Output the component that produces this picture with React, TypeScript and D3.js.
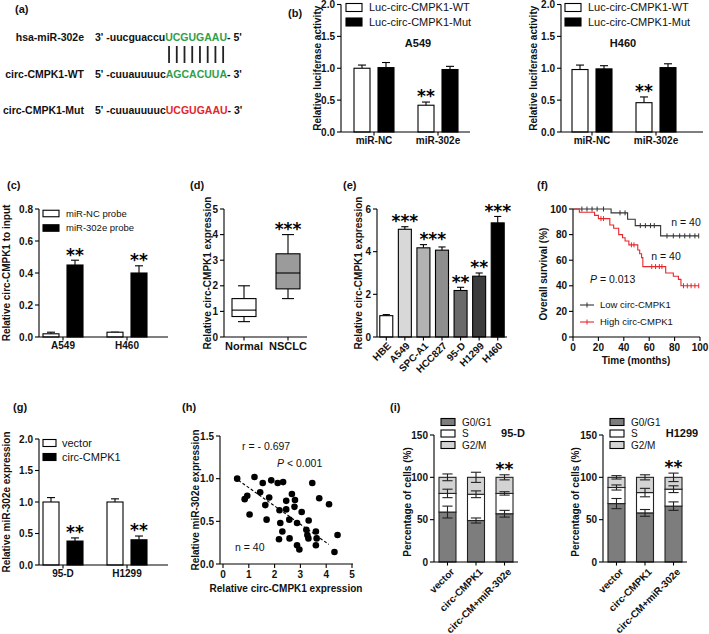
import React from 'react';
import * as d3 from 'd3';

const W = 709, H = 634;
const FONT = "'Liberation Sans', Arial, Helvetica, sans-serif";
const STAR_FONT = "'DejaVu Sans', sans-serif";
const SF = 17;

// ---------------- (a) sequences
const seqLabels = ['hsa-miR-302e', 'circ-CMPK1-WT', 'circ-CMPK1-Mut'];
const seqPrefix = ["3' -uucguaccu", "5' -cuuauuuuc", "5' -cuuauuuuc"];
const seqSite = ['UCGUGAAU', 'AGCACUUA', 'UCGUGAAU'];
const seqSuffix = ["- 5'", "- 3'", "- 3'"];
const seqSiteColor = ['#2f9e4a', '#2f9e4a', '#e2262c'];
const pairCount = 8;

// ---------------- (b) luciferase
const lucGroups = ['miR-NC', 'miR-302e'];
const lucSeries = ['Luc-circ-CMPK1-WT', 'Luc-circ-CMPK1-Mut'];
const lucTicks = [0, 0.5, 1, 1.5, 2];
const a549WT = [1.0, 0.42];
const a549WTErr = [0.05, 0.05];
const a549Mut = [1.01, 0.98];
const a549MutErr = [0.08, 0.05];
const h460WT = [0.98, 0.46];
const h460WTErr = [0.07, 0.09];
const h460Mut = [0.99, 1.01];
const h460MutErr = [0.05, 0.06];
const lucStarsWT = ['', '**'];

// ---------------- (c) RIP
const ripGroups = ['A549', 'H460'];
const ripSeries = ['miR-NC probe', 'miR-302e probe'];
const ripTicks = [0, 0.2, 0.4, 0.6, 0.8];
const ripNC = [0.02, 0.03];
const ripNCErr = [0.01, 0.0];
const rip302 = [0.45, 0.40];
const rip302Err = [0.03, 0.045];
const ripStars = ['**', '**'];

// ---------------- (d) box plot
const boxGroups = ['Normal', 'NSCLC'];
const boxMin = [0.6, 1.5];
const boxQ1 = [0.8, 1.88];
const boxMed = [1.05, 2.5];
const boxQ3 = [1.5, 3.25];
const boxMax = [2.0, 4.0];
const boxFill = ['#ffffff', '#9b9b9b'];
const boxStars = ['', '***'];
const boxTicks = [0, 1, 2, 3, 4, 5];

// ---------------- (e) cell lines
const cellLines = ['HBE', 'A549', 'SPC-A1', 'HCC827', '95-D', 'H1299', 'H460'];
const cellExpr = [1.0, 5.05, 4.18, 4.07, 2.18, 2.85, 5.35];
const cellErr = [0.05, 0.12, 0.15, 0.15, 0.15, 0.15, 0.3];
const cellFill = ['#ffffff', '#d8d8d8', '#b2b2b2', '#8e8e8e', '#6a6a6a', '#3c3c3c', '#000000'];
const cellTicks = [0, 2, 4, 6];
const cellStarText = ['***', '***', '**', '**', '***'];
const cellStarFrom = ['A549', 'SPC-A1', '95-D', 'H1299', 'H460'];
const cellStarTo = ['A549', 'HCC827', '95-D', 'H1299', 'H460'];

// ---------------- (f) Kaplan-Meier
const kmTicks = [0, 20, 40, 60, 80, 100];
const lowTimes = [0, 30, 43, 49, 69];
const lowSurv = [100, 97, 92, 87, 79];
const lowEnd = 99;
const lowCensor = [7, 11, 15, 19, 24, 37, 41, 53, 57, 61, 64, 74, 79, 84, 88, 92, 96, 99];
const highTimes = [0, 5, 17, 20, 29, 32, 36, 39, 41, 44, 51, 52.5, 54, 55, 73, 79, 83, 85];
const highSurv = [100, 97.5, 95, 92.5, 87.5, 85, 80, 77.5, 75, 72, 68, 65, 62, 55, 50, 47.5, 45, 40];
const highEnd = 99;
const highCensor = [22, 24, 46, 48, 62, 65, 68, 70, 87, 90, 93, 96, 99];
const kmLegend = ['Low circ-CMPK1', 'High circ-CMPK1'];
const kmColors = ['#333333', '#e8262c'];

// ---------------- (g) miR-302e expression
const gGroups = ['95-D', 'H1299'];
const gSeries = ['vector', 'circ-CMPK1'];
const gTicks = [0, 0.5, 1, 1.5, 2];
const vecExpr = [1.0, 1.0];
const vecErr = [0.07, 0.05];
const circExpr = [0.38, 0.40];
const circErr = [0.05, 0.06];
const gStars = ['**', '**'];

// ---------------- (h) correlation
const scatterX = [0.55, 0.84, 0.94, 1.03, 1.22, 1.44, 1.54, 1.64, 1.69, 1.79, 1.87, 2.12, 2.19, 2.17, 2.22, 2.33, 2.30, 2.45, 2.45, 2.57,
  2.58, 2.67, 2.79, 2.77, 2.87, 2.87, 2.96, 3.05, 3.23, 3.27, 3.31, 3.32, 3.46, 3.60, 3.63, 3.60, 3.73, 4.11, 4.44, 4.32];
const scatterY = [1.00, 0.76, 0.80, 0.58, 1.02, 0.84, 0.95, 0.69, 0.52, 0.78, 0.98, 0.95, 0.63, 0.29, 0.48, 0.96, 0.38, 0.74, 0.64, 0.52,
  0.30, 0.82, 0.75, 0.67, 0.48, 0.22, 0.17, 0.61, 0.40, 0.34, 0.30, 0.51, 0.95, 0.38, 0.30, 0.22, 0.77, 0.70, 0.34, 0.14];
const fitX = [0.6, 4.1];
const fitY = [0.98, 0.23];
const hXTicks = [0, 1, 2, 3, 4, 5];
const hYTicks = [0, 0.5, 1, 1.5];

// ---------------- (i) cell cycle
const cycleGroups = ['vector', 'circ-CMPK1', 'circ-CM+miR-302e'];
const phases = ['G0/G1', 'S', 'G2/M'];
const phaseFill = ['#7d7d7d', '#ffffff', '#d3d3d3'];
const cycleTicks = [0, 50, 100, 150];
const d95G1 = [59, 49, 57];
const d95G1Err = [7, 3, 4];
const d95S = [22, 31, 24];
const d95SErr = [5, 4, 2];
const d95G2 = [19, 20, 19];
const d95G2Err = [4, 6, 3];
const h1299G1 = [69, 58, 66];
const h1299G1Err = [6, 4, 5];
const h1299S = [19, 24, 20];
const h1299SErr = [3, 5, 4];
const h1299G2 = [12, 18, 14];
const h1299G2Err = [2, 3, 5];
const cycleStars = ['', '', '**'];

// ---------------- helpers
let _ctx: CanvasRenderingContext2D | null = null;
function measure(text: string, font: string): number {
  if (!_ctx) _ctx = document.createElement('canvas').getContext('2d');
  if (!_ctx) return text.length * 6;
  _ctx.font = font;
  return _ctx.measureText(text).width;
}

const SW = 1.1;

function YAxis({ scale, x, ticks, fmt, cls = 'tk' }: any) {
  const [d0, d1] = scale.domain();
  return (
    <g>
      <line x1={x} x2={x} y1={scale(d0)} y2={scale(d1)} stroke="#000" strokeWidth={SW} />
      {ticks.map((t: number) => (
        <g key={t}>
          <line x1={x - 4} x2={x} y1={scale(t)} y2={scale(t)} stroke="#000" strokeWidth={SW} />
          <text x={x - 6} y={scale(t)} dy="0.36em" textAnchor="end" className={cls}>{fmt(t)}</text>
        </g>
      ))}
    </g>
  );
}

function XBaseline({ x0, x1, y, ticks }: any) {
  return (
    <g>
      <line x1={x0} x2={x1} y1={y} y2={y} stroke="#000" strokeWidth={SW} />
      {ticks.map((t: number, i: number) => (
        <line key={i} x1={t} x2={t} y1={y} y2={y + 3.5} stroke="#000" strokeWidth={SW} />
      ))}
    </g>
  );
}

function YLabel({ x, y, text, cls = 'ttl' }: any) {
  return <text transform={`translate(${x},${y}) rotate(-90)`} textAnchor="middle" dy="0.35em" className={cls}>{text}</text>;
}

function Stars({ x, y, text }: any) {
  return <text x={x} y={y + SF * 0.55} textAnchor="middle" fontFamily={STAR_FONT} fontWeight="bold" fontSize={SF}>{text}</text>;
}

function UpErr({ cx, y0, y1, cap }: any) {
  return (
    <g stroke="#000" strokeWidth={SW}>
      <line x1={cx} x2={cx} y1={y0} y2={y1} />
      <line x1={cx - cap / 2} x2={cx + cap / 2} y1={y1} y2={y1} />
    </g>
  );
}

function BothErr({ cx, y, e, cap }: any) {
  return (
    <g stroke="#222" strokeWidth={SW}>
      <line x1={cx} x2={cx} y1={y - e} y2={y + e} />
      <line x1={cx - cap / 2} x2={cx + cap / 2} y1={y - e} y2={y - e} />
      <line x1={cx - cap / 2} x2={cx + cap / 2} y1={y + e} y2={y + e} />
    </g>
  );
}

function LegendBox({ x, y, fill, label, cls, w = 15, h = 7, gap = 7 }: any) {
  return (
    <g>
      <rect x={x} y={y - h / 2} width={w} height={h} fill={fill} stroke="#000" strokeWidth={SW} />
      <text x={x + w + gap} y={y} dy="0.36em" className={cls}>{label}</text>
    </g>
  );
}

// ---------------- grouped bar panel (b, c, g)
function GroupedPanel(p: any) {
  const y = d3.scaleLinear().domain(p.yDomain).range([p.yBottom, p.yTop]);
  const gx = d3.scaleBand().domain(p.groups).range(p.groupRange);
  const sx = d3.scaleBand().domain(['a', 'b']).range(p.subRange).paddingInner(p.subPad);
  const bw = sx.bandwidth();
  const series = [
    { key: 'a', vals: p.aVals, errs: p.aErrs, fill: '#ffffff', stars: p.aStars },
    { key: 'b', vals: p.bVals, errs: p.bErrs, fill: '#000000', stars: p.bStars },
  ];
  return (
    <g>
      {series.map(s => p.groups.map((g: string, i: number) => {
        const x = (gx(g) as number) + (sx(s.key) as number);
        const top = y(s.vals[i]);
        const et = y(s.vals[i] + s.errs[i]);
        return (
          <g key={s.key + g}>
            <UpErr cx={x + bw / 2} y0={top} y1={et} cap={bw * 0.5} />
            <rect x={x} y={top} width={bw} height={y(0) - top} fill={s.fill} stroke="#000" strokeWidth={SW} />
            {s.stars && s.stars[i] ? <Stars x={x + bw / 2} y={et - 9} text={s.stars[i]} /> : null}
          </g>
        );
      }))}
      <YAxis scale={y} x={p.axisX} ticks={p.ticks} fmt={d3.format('.1f')} />
      <XBaseline x0={p.axisX} x1={p.axisEnd} y={y(0)} ticks={p.groups.map((g: string) => (gx(g) as number) + gx.bandwidth() / 2)} />
      {p.groups.map((g: string) => (
        <text key={g} x={(gx(g) as number) + gx.bandwidth() / 2} y={y(0) + 12} textAnchor="middle" className="tk">{g}</text>
      ))}
      <YLabel x={p.ylabelX} y={(p.yTop + p.yBottom) / 2} text={p.ylabel} />
      <LegendBox x={p.legendX} y={p.legendY[0]} fill="#ffffff" label={p.seriesNames[0]} cls={p.legendCls} w={p.legendW} h={p.legendH} gap={p.legendGap} />
      <LegendBox x={p.legendX} y={p.legendY[1]} fill="#000000" label={p.seriesNames[1]} cls={p.legendCls} w={p.legendW} h={p.legendH} gap={p.legendGap} />
      {p.title ? <text x={p.titleX} y={p.titleY} textAnchor="middle" className="ttl2">{p.title}</text> : null}
    </g>
  );
}

// ---------------- (a)
function PanelA() {
  const fs = 10.5;
  const font = `bold ${fs}px 'Liberation Sans'`;
  const labelRight = 84, seqX = 95;
  const rowY = [41, 78, 114];
  const pre0 = measure(seqPrefix[0], font);
  const pitch = measure(seqSite[0], font) / seqSite[0].length;
  const lx = d3.range(pairCount).map(i => seqX + pre0 + (i + 0.5) * pitch);
  return (
    <g>
      {seqLabels.map((lab, i) => (
        <g key={i}>
          <text x={labelRight} y={rowY[i]} textAnchor="end" className="sq">{lab}</text>
          <text x={seqX} y={rowY[i]} className="sq">
            <tspan>{seqPrefix[i]}</tspan>
            <tspan fill={seqSiteColor[i]}>{seqSite[i]}</tspan>
            <tspan>{seqSuffix[i]}</tspan>
          </text>
        </g>
      ))}
      {lx.map((x, i) => <line key={i} x1={x} x2={x} y1={46} y2={63} stroke="#222" strokeWidth={1.8} />)}
    </g>
  );
}

// ---------------- (d)
function PanelD() {
  const y = d3.scaleLinear().domain([0, 5]).range([337, 209]);
  const x = d3.scaleBand().domain(boxGroups).range([222, 310]);
  const bw = 24;
  const axisX = 224;
  return (
    <g>
      {boxGroups.map((g, i) => {
        const cx = (x(g) as number) + x.bandwidth() / 2;
        return (
          <g key={g} stroke="#000" strokeWidth={SW}>
            <line x1={cx} x2={cx} y1={y(boxMin[i])} y2={y(boxQ1[i])} />
            <line x1={cx} x2={cx} y1={y(boxQ3[i])} y2={y(boxMax[i])} />
            <line x1={cx - bw / 4} x2={cx + bw / 4} y1={y(boxMin[i])} y2={y(boxMin[i])} />
            <line x1={cx - bw / 4} x2={cx + bw / 4} y1={y(boxMax[i])} y2={y(boxMax[i])} />
            <rect x={cx - bw / 2} y={y(boxQ3[i])} width={bw} height={y(boxQ1[i]) - y(boxQ3[i])} fill={boxFill[i]} />
            <line x1={cx - bw / 2} x2={cx + bw / 2} y1={y(boxMed[i])} y2={y(boxMed[i])} />
          </g>
        );
      })}
      {boxGroups.map((g, i) => boxStars[i] ? (
        <Stars key={g} x={(x(g) as number) + x.bandwidth() / 2} y={y(boxMax[i]) - 9} text={boxStars[i]} />
      ) : null)}
      <YAxis scale={y} x={axisX} ticks={boxTicks} fmt={d3.format('d')} />
      <XBaseline x0={axisX} x1={307} y={y(0)} ticks={boxGroups.map(g => (x(g) as number) + x.bandwidth() / 2)} />
      {boxGroups.map(g => (
        <text key={g} x={(x(g) as number) + x.bandwidth() / 2} y={y(0) + 13} textAnchor="middle" className="tk2">{g}</text>
      ))}
      <YLabel x={207} y={273} text="Relative circ-CMPK1 expression" />
    </g>
  );
}

// ---------------- (e)
function PanelE() {
  const y = d3.scaleLinear().domain([0, 6]).range([337, 209]);
  const x = d3.scaleBand().domain(cellLines).range([377, 507]).paddingInner(0.3).paddingOuter(0.15);
  const bw = x.bandwidth();
  const axisX = 377;
  return (
    <g>
      {cellLines.map((c, i) => {
        const bx = x(c) as number;
        return (
          <g key={c}>
            <UpErr cx={bx + bw / 2} y0={y(cellExpr[i])} y1={y(cellExpr[i] + cellErr[i])} cap={bw * 0.55} />
            <rect x={bx} y={y(cellExpr[i])} width={bw} height={y(0) - y(cellExpr[i])} fill={cellFill[i]} stroke="#000" strokeWidth={SW} />
          </g>
        );
      })}
      {cellStarText.map((t, k) => {
        const i0 = cellLines.indexOf(cellStarFrom[k]);
        const i1 = cellLines.indexOf(cellStarTo[k]);
        const cx = ((x(cellStarFrom[k]) as number) + (x(cellStarTo[k]) as number)) / 2 + bw / 2;
        const topVal = d3.max(d3.range(i0, i1 + 1), j => cellExpr[j] + cellErr[j]) as number;
        return <Stars key={k} x={cx} y={y(topVal) - 9} text={t} />;
      })}
      <YAxis scale={y} x={axisX} ticks={cellTicks} fmt={d3.format('d')} />
      <XBaseline x0={axisX} x1={507} y={y(0)} ticks={cellLines.map(c => (x(c) as number) + bw / 2)} />
      {cellLines.map(c => (
        <text key={c} transform={`translate(${(x(c) as number) + bw / 2 + 3},${y(0) + 7}) rotate(-45)`} textAnchor="end" dy="0.35em" className="tk">{c}</text>
      ))}
      <YLabel x={358} y={273} text="Relative circ-CMPK1 expression" />
    </g>
  );
}

// ---------------- (f)
function stepValue(times: number[], surv: number[], t: number) {
  let v = surv[0];
  for (let i = 0; i < times.length; i++) if (times[i] <= t) v = surv[i];
  return v;
}

function PanelF() {
  const x = d3.scaleLinear().domain([0, 100]).range([573, 700]);
  const y = d3.scaleLinear().domain([0, 100]).range([337, 209]);
  const line = d3.line<[number, number]>().x(d => x(d[0])).y(d => y(d[1])).curve(d3.curveStepAfter);
  const curves = [
    { times: lowTimes, surv: lowSurv, end: lowEnd, censor: lowCensor, color: kmColors[0] },
    { times: highTimes, surv: highSurv, end: highEnd, censor: highCensor, color: kmColors[1] },
  ];
  return (
    <g>
      {curves.map((c, k) => {
        const pts: [number, number][] = c.times.map((t, i) => [t, c.surv[i]] as [number, number]);
        pts.push([c.end, c.surv[c.surv.length - 1]]);
        return (
          <g key={k}>
            <path d={line(pts) as string} fill="none" stroke={c.color} strokeWidth={1.1} />
            {c.censor.map((t, i) => {
              const v = stepValue(c.times, c.surv, t);
              return <line key={i} x1={x(t)} x2={x(t)} y1={y(v) - 2.5} y2={y(v) + 2.5} stroke={c.color} strokeWidth={1} />;
            })}
          </g>
        );
      })}
      <YAxis scale={y} x={573} ticks={kmTicks} fmt={d3.format('d')} />
      <line x1={573} x2={700} y1={337} y2={337} stroke="#000" strokeWidth={SW} />
      {kmTicks.map(t => (
        <g key={t}>
          <line x1={x(t)} x2={x(t)} y1={337} y2={341} stroke="#000" strokeWidth={SW} />
          <text x={x(t)} y={351} textAnchor="middle" className="tk">{t}</text>
        </g>
      ))}
      <text x={636} y={364} textAnchor="middle" className="ttl">Time (months)</text>
      <YLabel x={543} y={274} text="Overall survival (%)" />
      <text x={686} y={226} textAnchor="middle" className="an">n = 40</text>
      <text x={666} y={260} textAnchor="middle" className="an">n = 40</text>
      <text x={590} y={283} className="an"><tspan fontStyle="italic">P</tspan> = 0.013</text>
      {kmLegend.map((l, k) => (
        <g key={l}>
          <line x1={580} x2={594} y1={305 + k * 17} y2={305 + k * 17} stroke={kmColors[k]} strokeWidth={1.1} />
          <line x1={587} x2={587} y1={302.5 + k * 17} y2={307.5 + k * 17} stroke={kmColors[k]} strokeWidth={1} />
          <text x={600} y={305 + k * 17} dy="0.36em" className="lg9">{l}</text>
        </g>
      ))}
    </g>
  );
}

// ---------------- (h)
function PanelH() {
  const x = d3.scaleLinear().domain([0, 5]).range([223, 352]);
  const y = d3.scaleLinear().domain([0, 1.5]).range([564, 436]);
  const fitLine = d3.line<number>().x(v => x(v)).y((v, i) => y(fitY[i]));
  const axisX = 220;
  return (
    <g>
      <path d={fitLine(fitX) as string} fill="none" stroke="#000" strokeWidth={1.1} strokeDasharray="3,2" />
      {scatterX.map((v, i) => <circle key={i} cx={x(v)} cy={y(scatterY[i])} r={3.3} fill="#000" />)}
      <YAxis scale={y} x={axisX} ticks={hYTicks} fmt={d3.format('.1f')} />
      <line x1={axisX} x2={353} y1={564} y2={564} stroke="#000" strokeWidth={SW} />
      {hXTicks.map(t => (
        <g key={t}>
          <line x1={x(t)} x2={x(t)} y1={564} y2={568} stroke="#000" strokeWidth={SW} />
          <text x={x(t)} y={578} textAnchor="middle" className="tk">{t}</text>
        </g>
      ))}
      <text x={286} y={592} textAnchor="middle" className="ttl">Relative circ-CMPK1 expression</text>
      <YLabel x={195} y={500} text="Relative miR-302e expression" />
      <text x={242} y={450} className="an">r = - 0.697</text>
      <text x={277} y={467} className="an"><tspan fontStyle="italic">P</tspan> &lt; 0.001</text>
      <text x={235} y={551} className="an">n = 40</text>
    </g>
  );
}

// ---------------- (i)
function CyclePanel(p: any) {
  const y = d3.scaleLinear().domain([0, 150]).range([562, 435]);
  const x = d3.scaleBand().domain(cycleGroups).range([p.axisX, p.axisX + 84]).paddingInner(0.404).paddingOuter(0.175);
  const bw = x.bandwidth();
  const parts = [p.g1, p.s, p.g2];
  const errs = [p.g1Err, p.sErr, p.g2Err];
  const stack = d3.stack<number>().keys(['0', '1', '2']).value((i, key) => parts[+key][i])(d3.range(cycleGroups.length));
  return (
    <g>
      {stack.map((layer, k) => layer.map((seg, i) => {
        const bx = x(cycleGroups[i]) as number;
        return <rect key={k + '-' + i} x={bx} y={y(seg[1])} width={bw} height={y(seg[0]) - y(seg[1])} fill={phaseFill[k]} stroke="#222" strokeWidth={SW} />;
      }))}
      {stack.map((layer, k) => layer.map((seg, i) => {
        const bx = x(cycleGroups[i]) as number;
        return <BothErr key={'e' + k + '-' + i} cx={bx + bw / 2} y={y(seg[1])} e={y(0) - y(errs[k][i])} cap={bw * 0.6} />;
      }))}
      {cycleGroups.map((g, i) => cycleStars[i] ? (
        <Stars key={g} x={(x(g) as number) + bw / 2} y={y(100 + p.g2Err[i]) - 9} text={cycleStars[i]} />
      ) : null)}
      <YAxis scale={y} x={p.axisX} ticks={cycleTicks} fmt={d3.format('d')} />
      <XBaseline x0={p.axisX} x1={p.axisX + 84} y={y(0)} ticks={cycleGroups.map(g => (x(g) as number) + bw / 2)} />
      {cycleGroups.map(g => (
        <text key={g} transform={`translate(${(x(g) as number) + bw / 2 + 5},${y(0) + 8}) rotate(-45)`} textAnchor="end" dy="0.35em" className="tk">{g}</text>
      ))}
      <YLabel x={p.ylabelX} y={502} text="Percentage of cells (%)" />
      {phases.map((ph, k) => (
        <LegendBox key={ph} x={p.axisX + 7} y={422 + k * 11.5} fill={phaseFill[k]} label={ph} cls="lg10" w={14} h={7} />
      ))}
      <text x={p.titleX} y={437} textAnchor="middle" className="ttl2">{p.title}</text>
    </g>
  );
}

export default function App() {
  return (
    <div style={{ position: 'absolute', left: 0, top: 0, width: W, height: H, background: '#fff' }}>
      <svg width={W} height={H} style={{ display: 'block' }} fontFamily={FONT}>
        <style>{`
          .tk { font: bold 10px ${FONT}; fill: #111; }
          .tk2 { font: bold 11px ${FONT}; fill: #111; }
          .ttl { font: bold 10px ${FONT}; fill: #111; }
          .ttl2 { font: bold 11px ${FONT}; fill: #111; }
          .sq { font: bold 10.5px ${FONT}; fill: #111; }
          .pl { font: bold 11px ${FONT}; fill: #111; }
          .lg11 { font: 11px ${FONT}; fill: #111; }
          .lg10 { font: 10px ${FONT}; fill: #111; }
          .lg9 { font: 9.5px ${FONT}; fill: #111; }
          .an { font: 10.5px ${FONT}; fill: #111; }
        `}</style>
        <rect width={W} height={H} fill="#fff" />

        <text x={15} y={13} className="pl">(a)</text>
        <text x={288} y={17} className="pl">(b)</text>
        <text x={7} y={189} className="pl">(c)</text>
        <text x={190} y={189} className="pl">(d)</text>
        <text x={343} y={189} className="pl">(e)</text>
        <text x={537} y={189} className="pl">(f)</text>
        <text x={13} y={411} className="pl">(g)</text>
        <text x={182} y={411} className="pl">(h)</text>
        <text x={390} y={411} className="pl">(i)</text>

        <PanelA />

        <GroupedPanel groups={lucGroups} seriesNames={lucSeries}
          aVals={a549WT} aErrs={a549WTErr} bVals={a549Mut} bErrs={a549MutErr} aStars={lucStarsWT} bStars={null}
          yDomain={[0, 2]} yTop={4.5} yBottom={132} ticks={lucTicks}
          axisX={341} axisEnd={470} groupRange={[342, 470]} subRange={[12, 52]} subPad={1 / 3}
          ylabel="Relative luciferase activity" ylabelX={317}
          legendX={346} legendY={[7.5, 22]} legendCls="lg11" legendW={16} legendH={8} legendGap={7}
          title="A549" titleX={418} titleY={47} />

        <GroupedPanel groups={lucGroups} seriesNames={lucSeries}
          aVals={h460WT} aErrs={h460WTErr} bVals={h460Mut} bErrs={h460MutErr} aStars={lucStarsWT} bStars={null}
          yDomain={[0, 2]} yTop={4.5} yBottom={132} ticks={lucTicks}
          axisX={561} axisEnd={703} groupRange={[560, 688]} subRange={[12, 52]} subPad={1 / 3}
          ylabel="Relative luciferase activity" ylabelX={533}
          legendX={565} legendY={[7.5, 22]} legendCls="lg11" legendW={16} legendH={8} legendGap={7}
          title="H460" titleX={623} titleY={47} />

        <GroupedPanel groups={ripGroups} seriesNames={ripSeries}
          aVals={ripNC} aErrs={ripNCErr} bVals={rip302} bErrs={rip302Err} aStars={null} bStars={ripStars}
          yDomain={[0, 0.8]} yTop={209} yBottom={337} ticks={ripTicks}
          axisX={39} axisEnd={168} groupRange={[31, 159]} subRange={[12, 52]} subPad={1 / 3}
          ylabel="Relative circ-CMPK1 to input" ylabelX={6}
          legendX={43} legendY={[213.5, 228]} legendCls="lg9" legendW={16} legendH={6.5} legendGap={7}
          title={null} />

        <PanelD />
        <PanelE />
        <PanelF />

        <GroupedPanel groups={gGroups} seriesNames={gSeries}
          aVals={vecExpr} aErrs={vecErr} bVals={circExpr} bErrs={circErr} aStars={null} bStars={gStars}
          yDomain={[0, 2]} yTop={439} yBottom={565} ticks={gTicks}
          axisX={39} axisEnd={168} groupRange={[31, 159]} subRange={[12, 52]} subPad={1 / 3}
          ylabel="Relative miR-302e expression" ylabelX={6}
          legendX={43} legendY={[443, 457]} legendCls="lg11" legendW={13} legendH={7} legendGap={6}
          title={null} />

        <PanelH />

        <CyclePanel axisX={434} g1={d95G1} g1Err={d95G1Err} s={d95S} sErr={d95SErr} g2={d95G2} g2Err={d95G2Err}
          ylabelX={407} title="95-D" titleX={513} />
        <CyclePanel axisX={603} g1={h1299G1} g1Err={h1299G1Err} s={h1299S} sErr={h1299SErr} g2={h1299G2} g2Err={h1299G2Err}
          ylabelX={575} title="H1299" titleX={682} />
      </svg>
    </div>
  );
}
